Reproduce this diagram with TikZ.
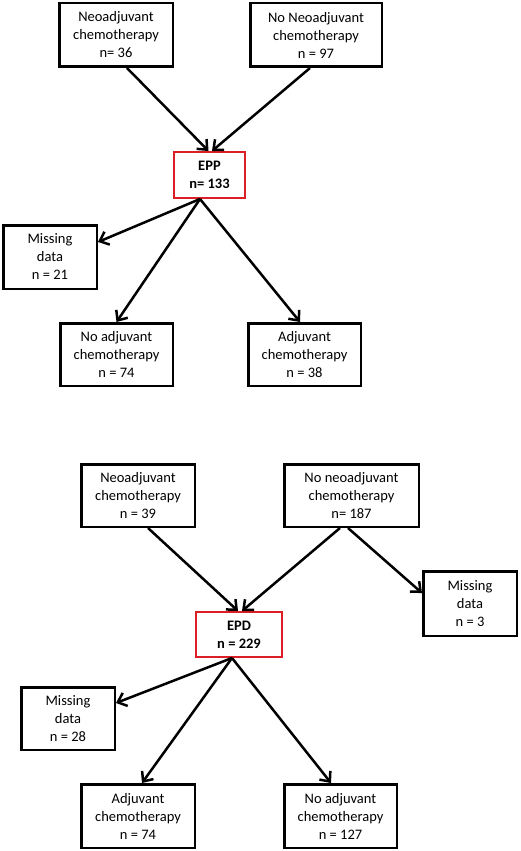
\documentclass[tikz,border=0pt]{standalone}
\usepackage{fontspec}
\setmainfont{Carlito}
\usetikzlibrary{arrows.meta}
\definecolor{boxred}{RGB}{220,30,38}
\begin{document}
\begin{tikzpicture}[x=1pt,y=-1pt,
    box/.style={draw,line width=2.5pt,inner sep=0pt,align=center,
      font=\fontsize{14.5}{18}\selectfont},
    redbox/.style={box,draw=boxred,line width=2pt,
      font=\fontsize{14.5}{18}\selectfont\bfseries}]
  \useasboundingbox (0,0) rectangle (520,851);
  % EPP
  \draw
    (116,35) node[box,minimum width=113.5pt,minimum height=63.5pt] (neo1){Neoadjuvant\\chemotherapy\\n= 36}
    (316,35) node[box,minimum width=131.5pt,minimum height=63.5pt] (noneo1){No Neoadjuvant\\chemotherapy\\n = 97}
    (209.5,175) node[redbox,minimum width=71pt,minimum height=46pt] (epp){EPP\\n= 133}
    (50,257) node[box,minimum width=93.5pt,minimum height=63.5pt] (miss1){Missing\\data\\n = 21}
    (116.5,354.5) node[box,minimum width=112.5pt,minimum height=62.5pt] (noadj1){No adjuvant\\chemotherapy\\n = 74}
    (304.5,354.5) node[box,minimum width=112.5pt,minimum height=62.5pt] (adj1){Adjuvant\\chemotherapy\\n = 38};
  % EPD
  \draw
    (138,495.5) node[box,minimum width=113.5pt,minimum height=62.5pt] (neo2){Neoadjuvant\\chemotherapy\\n = 39}
    (351.5,495.5) node[box,minimum width=134.5pt,minimum height=62.5pt] (noneo2){No neoadjuvant\\chemotherapy\\n= 187}
    (470,603.5) node[box,minimum width=93.5pt,minimum height=64.5pt] (miss2){Missing\\data\\n = 3}
    (239,634.5) node[redbox,minimum width=86pt,minimum height=45pt] (epd){EPD\\n = 229}
    (68,718.5) node[box,minimum width=93.5pt,minimum height=62.5pt] (miss3){Missing\\data\\n = 28}
    (138,816) node[box,minimum width=113.5pt,minimum height=63.5pt] (adj2){Adjuvant\\chemotherapy\\n = 74}
    (340.5,816) node[box,minimum width=112.5pt,minimum height=63.5pt] (noadj2){No adjuvant\\chemotherapy\\n = 127};
  \begin{scope}[-{Straight Barb[length=8pt,width=14pt]},line width=2.5pt]
    \draw ([xshift=11pt]neo1.south) to ([xshift=-1pt]epp.north);
    \draw ([xshift=-6pt]noneo1.south) to ([xshift=2.5pt]epp.north);
    \draw ([xshift=-9.5pt]epp.south) to ([yshift=15pt]miss1.east);
    \draw ([xshift=-9.5pt]epp.south) to (noadj1.north);
    \draw ([xshift=-9.5pt]epp.south) to ([xshift=-4.5pt]adj1.north);
    \draw ([xshift=10pt]neo2.south) to ([xshift=-1pt]epd.north);
    \draw ([xshift=-11.5pt]noneo2.south) to ([xshift=3pt]epd.north);
    \draw ([xshift=-3.5pt]noneo2.south) to ([yshift=10.5pt]miss2.west);
    \draw ([xshift=-7pt]epd.south) to ([yshift=15.5pt]miss3.east);
    \draw ([xshift=-7pt]epd.south) to ([xshift=4pt]adj2.north);
    \draw ([xshift=-7pt]epd.south) to ([xshift=-9.5pt]noadj2.north);
  \end{scope}
\end{tikzpicture}
\end{document}
